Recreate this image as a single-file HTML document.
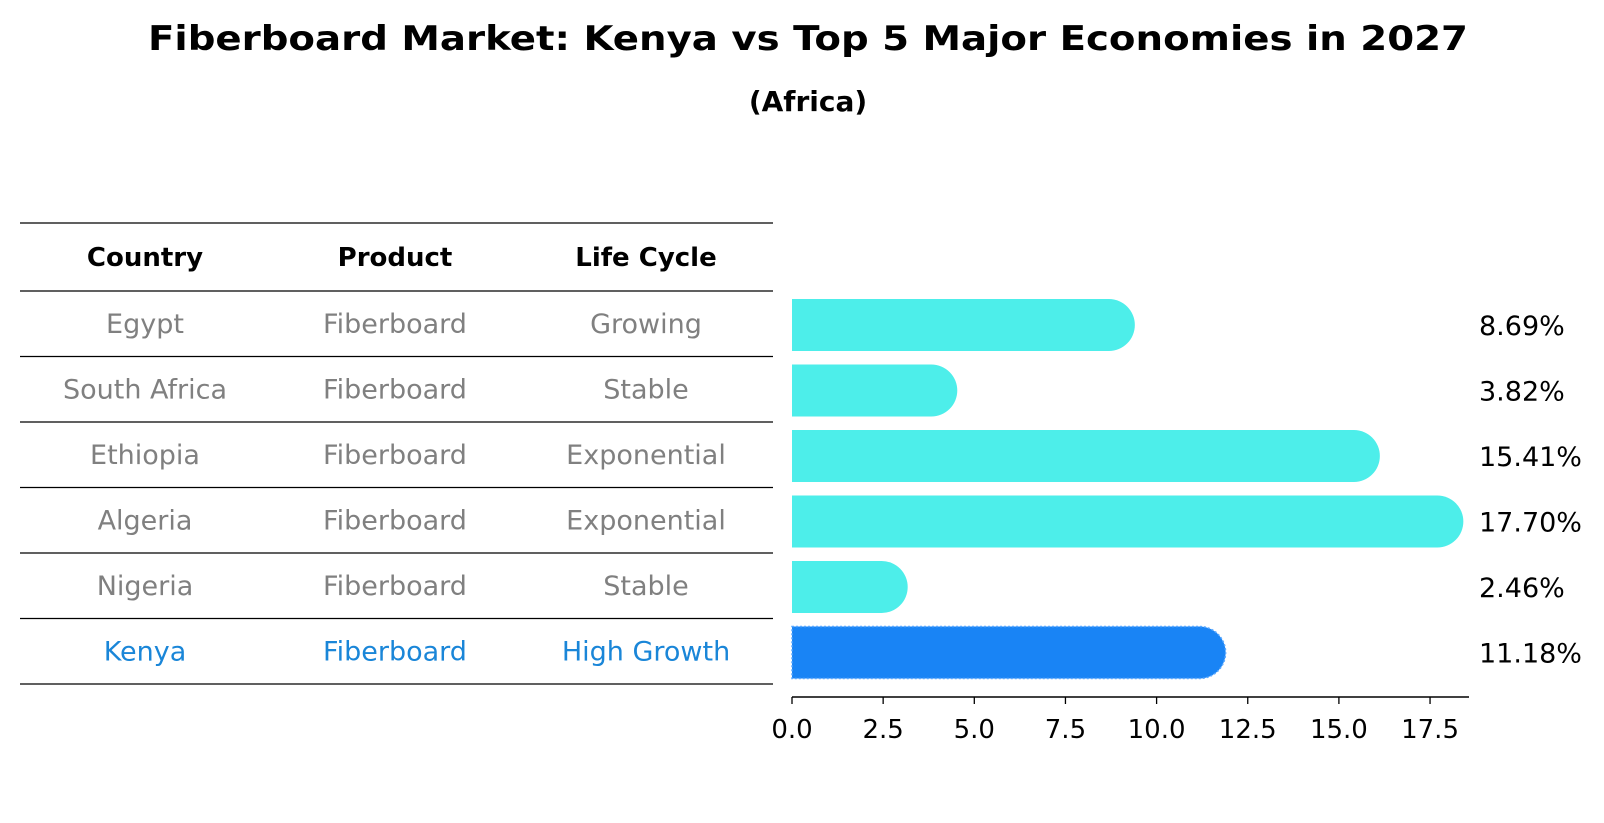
<!DOCTYPE html>
<html><head><meta charset="utf-8"><style>
html,body{margin:0;padding:0;background:#fff}
svg{display:block;font-family:"DejaVu Sans","Liberation Sans",sans-serif}
</style></head><body>
<svg id="chart" width="1604" height="823" viewBox="0 0 1604 823">
<text x="808" y="50" text-anchor="middle" font-size="34" font-weight="bold" textLength="1320" lengthAdjust="spacingAndGlyphs">Fiberboard Market: Kenya vs Top 5 Major Economies in 2027</text>
<text x="808" y="111" text-anchor="middle" font-size="28" font-weight="bold">(Africa)</text>
<g id="table"></g>
<g id="bars"></g>
<g id="axis"></g>
</svg>
<script>
const countries = ["Egypt","South Africa","Ethiopia","Algeria","Nigeria","Kenya"];
const products = ["Fiberboard","Fiberboard","Fiberboard","Fiberboard","Fiberboard","Fiberboard"];
const lifeCycles = ["Growing","Stable","Exponential","Exponential","Stable","High Growth"];
const values = [8.69,3.82,15.41,17.70,2.46,11.18];
const valueLabels = ["8.69%","3.82%","15.41%","17.70%","2.46%","11.18%"];
const ticks = [0,2.5,5,7.5,10,12.5,15,17.5];
const tickLabels = ["0.0","2.5","5.0","7.5","10.0","12.5","15.0","17.5"];

const NS="http://www.w3.org/2000/svg";
const X0=792, SCALE=36.46, ROW0=323, ROWH=65.5, BARH=52, R=26;
const xs=v=>X0+v*SCALE;
const rowY=i=>ROW0+i*ROWH;
function mk(tag,attrs,parent,txt){const e=document.createElementNS(NS,tag);for(const k in attrs)e.setAttribute(k,attrs[k]);if(txt!=null)e.textContent=txt;parent.appendChild(e);return e;}

const table=document.getElementById('table');
const colX=[145,395,646];
const lineYs=[223,291];
for(let i=0;i<countries.length;i++) lineYs.push(291+(i+1)*ROWH);
lineYs.forEach((y,i)=>{
  const l=mk('line',{x1:20,x2:773,y1:y,y2:y,stroke:'#000','stroke-width':1.3},table);
  
  
});
["Country","Product","Life Cycle"].forEach((h,j)=>{
  const t=mk('text',{x:colX[j],y:266,'text-anchor':'middle','font-size':26,'font-weight':'bold'},table,h);
  
  
});
countries.forEach((c,i)=>{
  const y=rowY(i)+10;
  const col=c==="Kenya"?'#1a86d8':'#808080';
  [c,products[i],lifeCycles[i]].forEach((v,j)=>{
    const t=mk('text',{x:colX[j],y:y,'text-anchor':'middle','font-size':27,fill:col},table,v);
    
    
  });
});

const bars=document.getElementById('bars');
values.forEach((v,i)=>{
  const cy=rowY(i)+2;
  const isK=countries[i]==="Kenya";
  const fill=isK?'#1984F5':'#4DEEEA';
  const xe=xs(v);
  const d=`M${X0},${cy-BARH/2} L${xe},${cy-BARH/2} A${R},${BARH/2} 0 0 1 ${xe},${cy+BARH/2} L${X0},${cy+BARH/2} Z`;
  const p=mk('path',{d:d,fill:fill},bars);
  if(isK){p.setAttribute('stroke','#5aa8ff');p.setAttribute('stroke-width','1.5');p.setAttribute('stroke-dasharray','2,2');}
  
  
  const t=mk('text',{x:1479,y:cy+10,'font-size':27},bars,valueLabels[i]);
  
  
});

const axis=document.getElementById('axis');
const al=mk('line',{x1:X0,x2:1469,y1:697,y2:697,stroke:'#000','stroke-width':1.5},axis);


ticks.forEach((v,i)=>{
  const x=xs(v);
  const tk=mk('line',{x1:x,x2:x,y1:697,y2:704,stroke:'#000','stroke-width':1.3},axis);
  
  
  const t=mk('text',{x:x,y:738,'text-anchor':'middle','font-size':26},axis,tickLabels[i]);
  
  
});
</script>
</body></html>
